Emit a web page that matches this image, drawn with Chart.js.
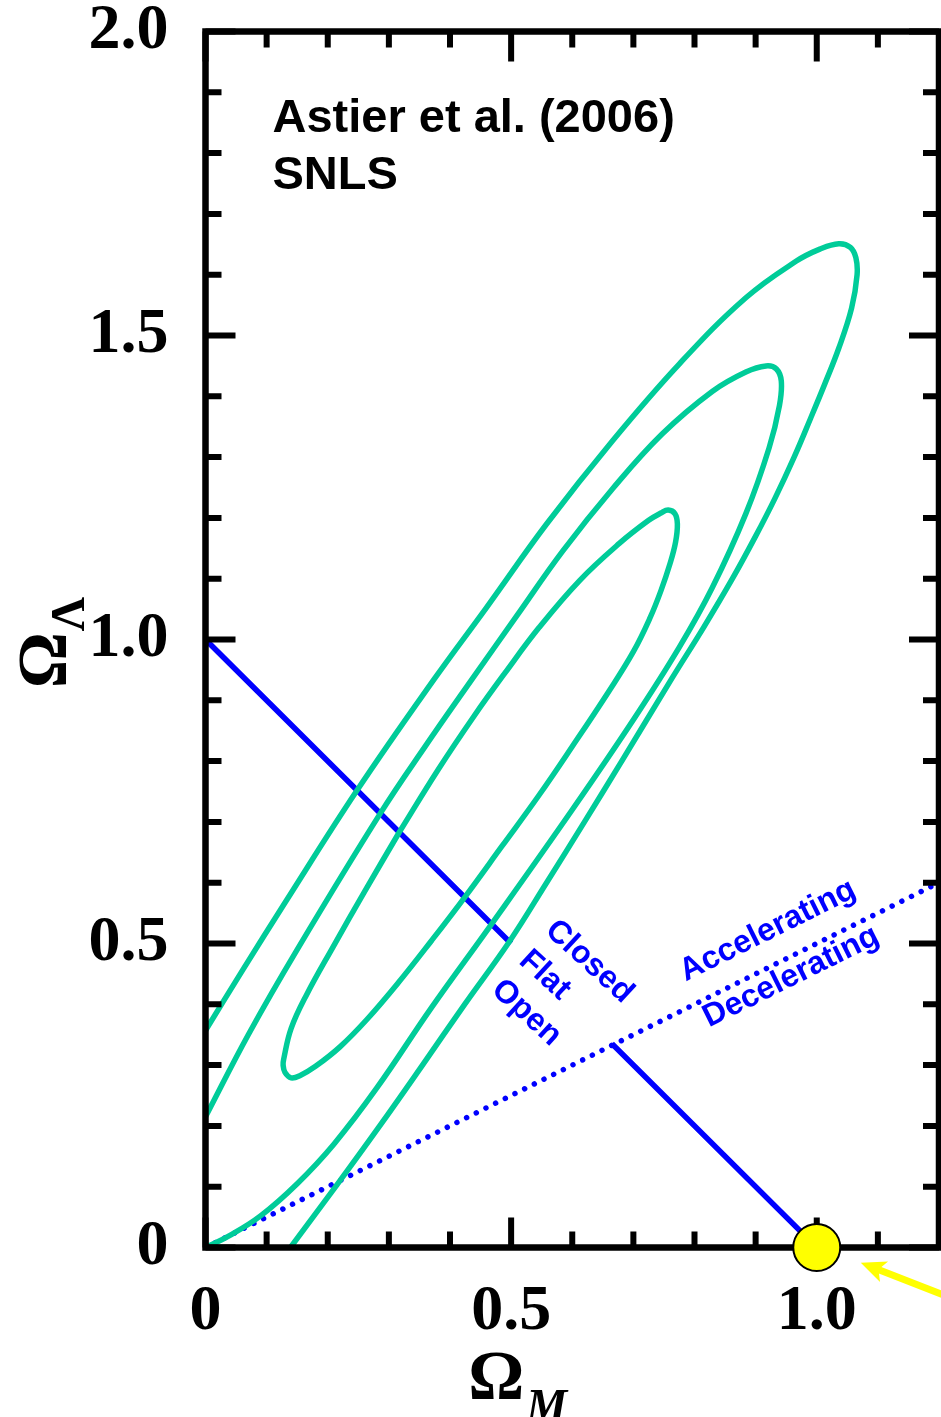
<!DOCTYPE html>
<html>
<head>
<meta charset="utf-8">
<script src="https://cdn.jsdelivr.net/npm/chart.js@4/dist/chart.umd.min.js"></script>
<style>
  html, body { margin: 0; padding: 0; background: #fff; }
  canvas { display: block; }
</style>
</head>
<body>
<canvas id="graph" width="941" height="1417"></canvas>
<script>
// SNLS confidence contours in the (Omega_M, Omega_Lambda) plane
var innerOmegaM = [0.317, 0.38, 0.44, 0.49, 0.546, 0.612, 0.677, 0.725, 0.745, 0.757, 0.768, 0.772, 0.769, 0.760, 0.745, 0.727, 0.70, 0.66, 0.60, 0.545, 0.485, 0.424, 0.37, 0.315, 0.264, 0.22, 0.18, 0.155, 0.14, 0.13, 0.127, 0.128, 0.14, 0.165, 0.209, 0.26, 0.317];
var innerOmegaL = [0.683, 0.785, 0.875, 0.945, 1.02, 1.097, 1.158, 1.196, 1.208, 1.213, 1.207, 1.19, 1.16, 1.125, 1.08, 1.035, 0.98, 0.915, 0.824, 0.743, 0.66, 0.576, 0.505, 0.435, 0.375, 0.33, 0.298, 0.283, 0.279, 0.288, 0.30, 0.31, 0.36, 0.415, 0.495, 0.585, 0.683];

var middleOmegaM = [0, 0.07, 0.15, 0.286, 0.36, 0.437, 0.51, 0.584, 0.666, 0.747, 0.829, 0.884, 0.917, 0.934, 0.942, 0.939, 0.922, 0.884, 0.829, 0.775, 0.70, 0.60, 0.468, 0.37, 0.28, 0.21, 0.15, 0.09, 0.04, 0];
var middleOmegaL = [0.215, 0.35, 0.49, 0.714, 0.825, 0.936, 1.04, 1.145, 1.248, 1.338, 1.408, 1.440, 1.450, 1.445, 1.425, 1.385, 1.315, 1.207, 1.085, 0.987, 0.868, 0.72, 0.532, 0.395, 0.262, 0.17, 0.105, 0.052, 0.02, 0];

var outerOmegaM = [0, 0.06, 0.13, 0.248, 0.375, 0.46, 0.558, 0.666, 0.775, 0.884, 0.966, 1.005, 1.036, 1.055, 1.064, 1.066, 1.057, 1.036, 1.013, 0.99, 0.963, 0.932, 0.90, 0.862, 0.815, 0.763, 0.681, 0.62, 0.558, 0.497, 0.424, 0.355, 0.285, 0.215, 0.139];
var outerOmegaL = [0.357, 0.455, 0.567, 0.752, 0.936, 1.053, 1.19, 1.327, 1.453, 1.562, 1.622, 1.642, 1.651, 1.645, 1.628, 1.60, 1.545, 1.479, 1.42, 1.364, 1.30, 1.233, 1.17, 1.10, 1.02, 0.936, 0.80, 0.70, 0.60, 0.503, 0.40, 0.30, 0.20, 0.103, 0];

// flat universe line, broken where the labels sit
var flatOmegaM = [0, 0.5, null, 0.665, 1.0];
var flatOmegaL = [1.0, 0.5, null, 0.335, 0.0];

// accelerating / decelerating boundary
var accelOmegaM = [0, 1.2];
var accelOmegaL = [0, 0.6];

// Einstein-de Sitter point
var edsOmegaM = [1.0];
var edsOmegaL = [0.0];

var xTickLabels = ['0', '0.5', '1.0'];
var yTickLabels = ['0', '0.5', '1.0', '1.5', '2.0'];

var serif = '"Liberation Serif", "Times New Roman", serif';
var sans = '"Liberation Sans", Arial, sans-serif';
var teal = '#00CC99';
var blue = '#0000FF';

function toPoints(xs, ys) {
  return xs.map(function(x, i) {
    return { x: x, y: ys[i] };
  });
}

function isMajor(v) {
  return Math.abs(v * 2 - Math.round(v * 2)) < 1e-6;
}

function tickLabel(labels) {
  return function(v) {
    var k = Math.round(v * 2);
    return isMajor(v) && labels[k] !== undefined ? labels[k] : '';
  };
}

// box with inward ticks on all four sides
function drawFrame(chart) {
  var ctx = chart.ctx, a = chart.chartArea;
  var xs = chart.scales.x, ys = chart.scales.y;
  ctx.save();
  ctx.strokeStyle = '#000';
  ctx.lineWidth = 6;
  ctx.lineCap = 'butt';
  ctx.beginPath();
  xs.ticks.forEach(function(t) {
    var px = xs.getPixelForValue(t.value);
    var len = isMajor(t.value) ? 30 : 16;
    ctx.moveTo(px, a.bottom); ctx.lineTo(px, a.bottom - len);
    ctx.moveTo(px, a.top); ctx.lineTo(px, a.top + len);
  });
  ys.ticks.forEach(function(t) {
    var py = ys.getPixelForValue(t.value);
    var len = isMajor(t.value) ? 30 : 16;
    ctx.moveTo(a.left, py); ctx.lineTo(a.left + len, py);
    ctx.moveTo(a.right, py); ctx.lineTo(a.right - len, py);
  });
  ctx.stroke();
  ctx.lineWidth = 6.5;
  ctx.strokeRect(a.left, a.top, a.right - a.left, a.bottom - a.top);
  ctx.restore();
}

function rotatedText(ctx, text, x, y, angle) {
  ctx.save();
  ctx.translate(x, y);
  ctx.rotate(angle);
  ctx.fillText(text, 0, 0);
  ctx.restore();
}

var decorations = {
  id: 'decorations',
  beforeDatasetDraw: function(chart, args) {
    if (args.index === 0) drawFrame(chart);
  },
  afterDraw: function(chart) {
    var ctx = chart.ctx, a = chart.chartArea;
    var xs = chart.scales.x, ys = chart.scales.y;
    ctx.save();

    // axis titles
    ctx.fillStyle = '#000';
    ctx.textAlign = 'left';
    ctx.textBaseline = 'alphabetic';
    var ox = xs.getPixelForValue(0.43);
    ctx.font = 'bold 70px ' + serif;
    ctx.fillText('Ω', ox, a.bottom + 151);
    ctx.font = 'italic bold 46px ' + serif;
    ctx.fillText('M', ox + 58, a.bottom + 173);

    ctx.save();
    ctx.translate(66, ys.getPixelForValue(0.92));
    ctx.rotate(-Math.PI / 2);
    ctx.font = 'bold 70px ' + serif;
    ctx.fillText('Ω', 0, 0);
    ctx.font = 'bold 48px ' + serif;
    ctx.fillText('Λ', 57, 18);
    ctx.restore();

    // data source
    ctx.font = 'bold 47px ' + sans;
    ctx.fillText('Astier et al. (2006)', a.left + 67, a.top + 100);
    ctx.fillText('SNLS', a.left + 67, a.top + 157);

    // line labels
    ctx.fillStyle = blue;
    ctx.font = 'bold 32px ' + sans;
    ctx.textAlign = 'center';
    ctx.textBaseline = 'middle';
    var flatAng = Math.atan2(ys.getPixelForValue(0) - ys.getPixelForValue(1), xs.getPixelForValue(1) - xs.getPixelForValue(0)) - 0.04;
    var accAng = Math.atan2(ys.getPixelForValue(0.6) - ys.getPixelForValue(0), xs.getPixelForValue(1.2) - xs.getPixelForValue(0));
    rotatedText(ctx, 'Closed', xs.getPixelForValue(0.628), ys.getPixelForValue(0.470), flatAng);
    rotatedText(ctx, 'Flat', xs.getPixelForValue(0.555), ys.getPixelForValue(0.448), flatAng);
    rotatedText(ctx, 'Open', xs.getPixelForValue(0.525), ys.getPixelForValue(0.386), flatAng);
    rotatedText(ctx, 'Accelerating', xs.getPixelForValue(0.920), ys.getPixelForValue(0.521), accAng);
    rotatedText(ctx, 'Decelerating', xs.getPixelForValue(0.958), ys.getPixelForValue(0.445), accAng);

    // arrow pointing at the EdS point
    var tipX = xs.getPixelForValue(1.072), tipY = ys.getPixelForValue(-0.025);
    var tailX = xs.getPixelForValue(1.25), tailY = ys.getPixelForValue(-0.095);
    var ang = Math.atan2(tailY - tipY, tailX - tipX);
    var c = Math.cos(ang), s = Math.sin(ang);
    ctx.strokeStyle = '#FFFF00';
    ctx.fillStyle = '#FFFF00';
    ctx.lineWidth = 7;
    ctx.beginPath();
    ctx.moveTo(tailX, tailY);
    ctx.lineTo(tipX + 18 * c, tipY + 18 * s);
    ctx.stroke();
    ctx.beginPath();
    ctx.moveTo(tipX, tipY);
    ctx.lineTo(tipX + 25 * c - 11 * s, tipY + 25 * s + 11 * c);
    ctx.lineTo(tipX + 19 * c, tipY + 19 * s);
    ctx.lineTo(tipX + 25 * c + 11 * s, tipY + 25 * s - 11 * c);
    ctx.closePath();
    ctx.fill();

    ctx.restore();
  }
};

var drawGraph = function() {
  var ctx = document.getElementById('graph').getContext('2d');
  var contour = function(label, xs, ys) {
    return {
      label: label, data: toPoints(xs, ys),
      showLine: true, borderColor: teal, borderWidth: 5.5,
      tension: 0.4, pointRadius: 0, fill: false
    };
  };
  var config = {
    type: 'scatter',
    data: {
      datasets: [
        {
          label: 'EdS', data: toPoints(edsOmegaM, edsOmegaL),
          pointRadius: 23.5, pointBackgroundColor: '#FFFF00',
          pointBorderColor: '#000', pointBorderWidth: 2, clip: false
        },
        contour('68%', innerOmegaM, innerOmegaL),
        contour('90%', middleOmegaM, middleOmegaL),
        contour('95%', outerOmegaM, outerOmegaL),
        {
          label: 'Flat', data: toPoints(flatOmegaM, flatOmegaL),
          showLine: true, spanGaps: false, borderColor: blue, borderWidth: 5.5,
          pointRadius: 0, tension: 0
        },
        {
          label: 'q0 = 0', data: toPoints(accelOmegaM, accelOmegaL),
          showLine: true, borderColor: blue, borderWidth: 5.5,
          borderDash: [0.001, 10.8], borderCapStyle: 'round',
          pointRadius: 0, tension: 0
        }
      ]
    },
    options: {
      responsive: false,
      animation: false,
      devicePixelRatio: 1,
      layout: { autoPadding: false, padding: { top: 31.5, right: 2, bottom: 0, left: 0 } },
      plugins: { legend: { display: false }, tooltip: { enabled: false } },
      scales: {
        x: {
          type: 'linear', min: 0, max: 1.2,
          grid: { display: false, drawTicks: false },
          border: { display: false },
          ticks: {
            stepSize: 0.1, autoSkip: false, maxRotation: 0, padding: 27,
            color: '#000', font: { family: serif, size: 64, weight: 'bold' },
            callback: tickLabel(xTickLabels)
          },
          afterFit: function(scale) {
            scale.height = 169.5;
            scale.paddingLeft = 0;
            scale.paddingRight = 0;
          }
        },
        y: {
          type: 'linear', min: 0, max: 2,
          grid: { display: false, drawTicks: false },
          border: { display: false },
          ticks: {
            stepSize: 0.1, autoSkip: false, padding: 37,
            color: '#000', font: { family: serif, size: 64, weight: 'bold' },
            callback: tickLabel(yTickLabels)
          },
          afterFit: function(scale) {
            scale.width = 205.5;
            scale.paddingTop = 0;
            scale.paddingBottom = 0;
          }
        }
      }
    },
    plugins: [decorations]
  };
  new Chart(ctx, config);
};

window.onload = function() {
  drawGraph();
};
</script>
</body>
</html>
